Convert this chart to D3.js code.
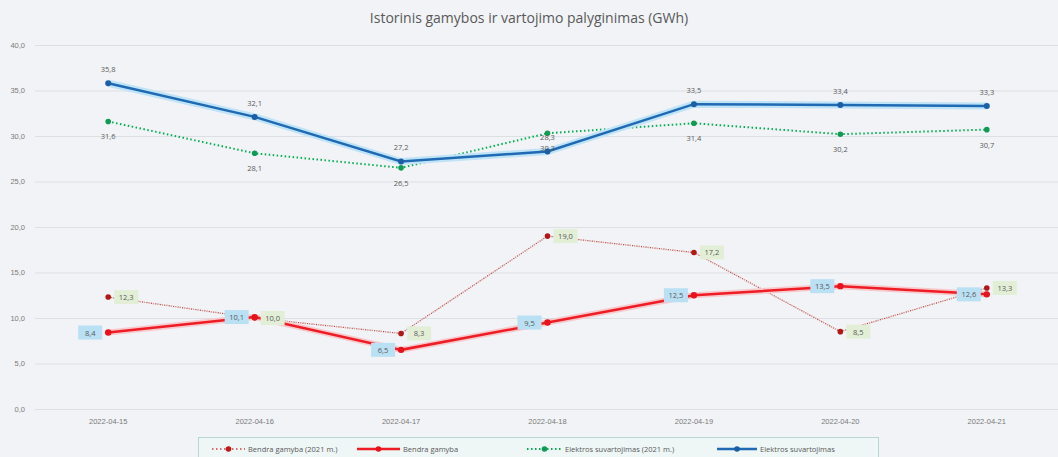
<!DOCTYPE html>
<html><head><meta charset="utf-8">
<script src="https://cdn.jsdelivr.net/npm/d3@7"></script>
<style>
html,body{margin:0;padding:0;background:#f1f3f6;}
svg{display:block;font-family:"Open Sans",sans-serif;}
</style></head>
<body><svg id="c" width="1058" height="457"></svg>
<script>
const categories = ["2022-04-15","2022-04-16","2022-04-17","2022-04-18","2022-04-19","2022-04-20","2022-04-21"];
const gamyba2021 = [12.3, 10.0, 8.3, 19.0, 17.2, 8.5, 13.3];
const gamyba = [8.4, 10.1, 6.5, 9.5, 12.5, 13.5, 12.6];
const suvartojimas2021 = [31.6, 28.1, 26.5, 30.3, 31.4, 30.2, 30.7];
const suvartojimas = [35.8, 32.1, 27.2, 28.3, 33.5, 33.4, 33.3];
const yTicks = [0, 5, 10, 15, 20, 25, 30, 35, 40];
const seriesNames = ["Bendra gamyba (2021 m.)", "Bendra gamyba", "Elektros suvartojimas (2021 m.)", "Elektros suvartojimas"];
const title = "Istorinis gamybos ir vartojimo palyginimas (GWh)";

const fmt = v => v.toFixed(1).replace(".", ",");
const svg = d3.select("#c");
const W = 1058, H = 457;
const mLeft = 35, mRight = 1060, mTop = 45, mBottom = 409;

const x = d3.scaleBand().domain(categories).range([mLeft, mRight]);
const xc = d => x(d) + x.bandwidth() / 2;
const y = d3.scaleLinear().domain([0, 40]).range([mBottom, mTop]);

svg.append("text").attr("x", 529).attr("y", 23).attr("text-anchor", "middle")
  .attr("font-size", 14).attr("fill", "#595959").text(title);

// grid
const yAxis = d3.axisLeft(y).tickValues(yTicks).tickSize(-(W - mLeft)).tickFormat(fmt);
const gy = svg.append("g").attr("transform", `translate(${mLeft},0)`).call(yAxis);
gy.select(".domain").remove();
gy.selectAll(".tick line").attr("stroke", "#dcdfe4").attr("stroke-width", 1);
gy.selectAll(".tick text").attr("x", -10).attr("font-size", 7.5).attr("fill", "#7a7a7a");

const xAxis = d3.axisBottom(x).tickSize(0).tickPadding(10);
const gx = svg.append("g").attr("transform", `translate(0,${mBottom})`).call(xAxis);
gx.select(".domain").remove();
gx.selectAll(".tick text").attr("font-size", 7.5).attr("fill", "#7a7a7a");

const line = d3.line().x((d, i) => xc(categories[i])).y(d => y(d));

// Series: suvartojimas 2021 (green dotted)
svg.append("path").datum(suvartojimas2021).attr("d", line).attr("fill", "none")
  .attr("stroke", "#00b050").attr("stroke-width", 2).attr("stroke-dasharray", "1.5,2.5");
// gamyba 2021 (red dotted)
svg.append("path").datum(gamyba2021).attr("d", line).attr("fill", "none")
  .attr("stroke", "#c9a09a").attr("stroke-width", 1.5).attr("stroke-dasharray", "1.5,3");
svg.append("path").datum(gamyba2021).attr("d", line).attr("fill", "none")
  .attr("stroke", "#d04040").attr("stroke-width", 1.2).attr("stroke-dasharray", "1.2,3.3").attr("stroke-dashoffset", 2);
// glow lines
svg.append("path").datum(suvartojimas).attr("d", line).attr("fill", "none")
  .attr("stroke", "#bfe3f7").attr("stroke-width", 7).attr("stroke-linejoin", "round");
svg.append("path").datum(gamyba).attr("d", line).attr("fill", "none")
  .attr("stroke", "#f7c9cc").attr("stroke-width", 6).attr("stroke-linejoin", "round");
svg.append("path").datum(suvartojimas).attr("d", line).attr("fill", "none")
  .attr("stroke", "#1f6ab3").attr("stroke-width", 2.5);
svg.append("path").datum(gamyba).attr("d", line).attr("fill", "none")
  .attr("stroke", "#ee1c25").attr("stroke-width", 2.5);

// markers
function markers(data, color, r) {
  svg.append("g").selectAll("circle").data(data).join("circle")
    .attr("cx", (d, i) => xc(categories[i])).attr("cy", d => y(d)).attr("r", r).attr("fill", color);
}
markers(suvartojimas2021, "#119a53", 2.8);
markers(gamyba2021, "#b01818", 2.8);
markers(suvartojimas, "#1a5ea6", 3);
markers(gamyba, "#e8121c", 3.2);

// labels
const lab = svg.append("g").attr("font-size", 7.5).attr("fill", "#595959");
suvartojimas.forEach((v, i) => {
  lab.append("text").attr("x", xc(categories[i])).attr("y", y(v) - 11).attr("text-anchor", "middle").text(fmt(v));
});
suvartojimas2021.forEach((v, i) => {
  lab.append("text").attr("x", xc(categories[i])).attr("y", y(v) + 18).attr("text-anchor", "middle").text(fmt(v));
});
function boxLabels(data, fill, dx, anchor) {
  data.forEach((v, i) => {
    const cx = xc(categories[i]) + dx, cy = y(v);
    const bw = 24, bh = 14;
    const bx = anchor === "start" ? cx : cx - bw;
    lab.append("rect").attr("x", bx).attr("y", cy - bh / 2).attr("width", bw).attr("height", bh).attr("fill", fill);
    lab.append("text").attr("x", bx + bw / 2).attr("y", cy + 3).attr("text-anchor", "middle").text(fmt(v));
  });
}
boxLabels(gamyba, "#b9e0f3", -6, "end");
boxLabels(gamyba2021, "#e2efd6", 6, "start");

// legend
const lg = svg.append("g");
lg.append("rect").attr("x", 198.5).attr("y", 437.5).attr("width", 680).attr("height", 24)
  .attr("fill", "#eef6f6").attr("stroke", "#b9d6d2");
const items = [
  {x: 212, w: 33, color: "#d04040", mk: "#c01818", dash: "1.5,2.5", sw: 1.5},
  {x: 357, w: 43, color: "#ee1c25", mk: "#e8121c", dash: null, sw: 2.5},
  {x: 527, w: 35, color: "#00b050", mk: "#119a53", dash: "1.5,2.5", sw: 2},
  {x: 717, w: 40, color: "#1f6ab3", mk: "#1a5ea6", dash: null, sw: 2.5}
];
items.forEach((it, i) => {
  const ly = 449;
  const l = lg.append("line").attr("x1", it.x).attr("x2", it.x + it.w).attr("y1", ly).attr("y2", ly)
    .attr("stroke", it.color).attr("stroke-width", it.sw);
  if (it.dash) l.attr("stroke-dasharray", it.dash);
  lg.append("circle").attr("cx", it.x + it.w / 2).attr("cy", ly).attr("r", 2.8).attr("fill", it.mk);
  lg.append("text").attr("x", it.x + it.w + 3).attr("y", ly + 2.6).attr("font-size", 7.5).attr("fill", "#595959").text(seriesNames[i]);
});
</script></body></html>
